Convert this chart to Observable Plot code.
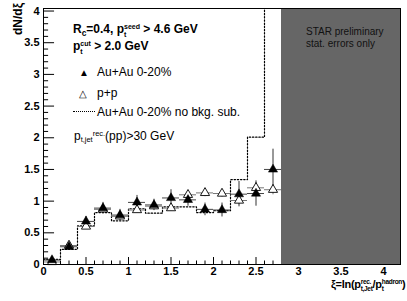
<!DOCTYPE html>
<html>
<head>
<meta charset="utf-8">
<script src="https://cdn.jsdelivr.net/npm/d3@7"></script>
<script src="https://cdn.jsdelivr.net/npm/@observablehq/plot@0.6"></script>
<style>
  body { margin: 0; background: white; }
  #wrap { position: relative; width: 407px; height: 301px; font-family: "Liberation Sans", Arial, sans-serif; color: #000; }
  #wrap svg { position: absolute; left: 0; top: 0; }
  .lab { position: absolute; white-space: nowrap; line-height: 1; }
  .b { font-weight: bold; }
  .ss { display: inline-flex; flex-direction: column; font-size: 7px; line-height: 8px; vertical-align: 4px; }
  .sup { font-size: 0.62em; vertical-align: 0.55em; }
  .sub { font-size: 0.62em; vertical-align: -0.3em; }
</style>
</head>
<body>
<div id="wrap"></div>
<script>
// ---- data ----
const xi        = [0.1, 0.3, 0.5, 0.7, 0.9, 1.1, 1.3, 1.5, 1.7, 1.9, 2.1, 2.3, 2.5, 2.7];
const auau      = [0.07, 0.28, 0.68, 0.89, 0.78, 0.98, 0.94, 1.05, 1.02, 0.87, 0.86, 1.11, 1.12, 1.50];
const auauErr   = [0.04, 0.05, 0.08, 0.09, 0.09, 0.11, 0.09, 0.13, 0.10, 0.10, 0.11, 0.20, 0.20, 0.32];
const pp        = [0.04, 0.30, 0.60, 0.87, 0.76, 0.86, 0.92, 0.89, 1.10, 1.13, 1.12, 1.01, 1.21, 1.18];
const ppErr     = [0.02, 0.03, 0.04, 0.05, 0.05, 0.05, 0.05, 0.05, 0.06, 0.06, 0.06, 0.07, 0.08, 0.08];
const noBkg     = [0.08, 0.24, 0.61, 0.82, 0.69, 0.88, 0.81, 0.91, 0.91, 0.82, 0.85, 1.34, 2.01, 4.30];
const binHalf   = 0.1;
const xTicks    = [0, 0.5, 1, 1.5, 2, 2.5, 3, 3.5, 4];
const yTicks    = [0, 0.5, 1, 1.5, 2, 2.5, 3, 3.5, 4];
const excluded  = [{x1: 2.8, x2: 4.2}];
const xDomain   = [0, 4.2];
const yDomain   = [0, 4.04];

// ---- derived tables ----
const auauRows = xi.map((x, i) => ({x, y: auau[i], e: auauErr[i]}));
const ppRows   = xi.map((x, i) => ({x, y: pp[i], e: ppErr[i]}));
const histRows = xi.map((x, i) => ({x: x - binHalf, y: noBkg[i]}));
histRows.push({x: xi[xi.length - 1] + binHalf, y: noBkg[noBkg.length - 1]});
const xMinor = d3.range(0, 42).map(i => i / 10).filter(v => Math.abs(v * 2 - Math.round(v * 2)) > 1e-6);
const yMinor = d3.range(0, 41).map(i => i / 10).filter(v => Math.abs(v * 2 - Math.round(v * 2)) > 1e-6);

const plot = Plot.plot({
  width: 407,
  height: 301,
  marginLeft: 43,
  marginRight: 7,
  marginTop: 8,
  marginBottom: 37,
  x: {domain: xDomain},
  y: {domain: yDomain},
  style: {fontFamily: "Liberation Sans, Arial, sans-serif", fontSize: "11px", fontWeight: "bold", background: "white"},
  marks: [
    Plot.axisX({ticks: xTicks, tickSize: 0, tickPadding: 3, label: null, tickFormat: d => String(d)}),
    Plot.axisY({ticks: yTicks, tickSize: 0, tickPadding: 4, label: null, tickFormat: d => String(d)}),
    // inward ticks
    Plot.ruleX(xTicks, {x: d => d, y1: 0, y2: 0.11, stroke: "black", strokeWidth: 1}),
    Plot.ruleX(xMinor, {x: d => d, y1: 0, y2: 0.055, stroke: "black", strokeWidth: 1}),
    Plot.ruleY(yTicks, {y: d => d, x1: 0, x2: 0.13, stroke: "black", strokeWidth: 1}),
    Plot.ruleY(yMinor, {y: d => d, x1: 0, x2: 0.06, stroke: "black", strokeWidth: 1}),
    // histogram (no bkg sub)
    Plot.line(histRows, {x: "x", y: "y", curve: "step-after", stroke: "black", strokeWidth: 1.2, strokeDasharray: "1.4,1.8", clip: true}),
    // p+p error bars
    Plot.ruleY(ppRows, {y: "y", x1: d => d.x - binHalf, x2: d => d.x + binHalf, stroke: "#777", strokeWidth: 1}),
    Plot.ruleX(ppRows, {x: "x", y1: d => d.y - d.e, y2: d => d.y + d.e, stroke: "#777", strokeWidth: 1}),
    // Au+Au error bars
    Plot.ruleY(auauRows, {y: "y", x1: d => d.x - binHalf, x2: d => d.x + binHalf, stroke: "#444", strokeWidth: 1}),
    Plot.ruleX(auauRows, {x: "x", y1: d => d.y - d.e, y2: d => d.y + d.e, stroke: "#333", strokeWidth: 1}),
    // markers
    Plot.dot(ppRows, {x: "x", y: "y", symbol: "triangle", r: 3.4, fill: "white", stroke: "black", strokeWidth: 0.9}),
    Plot.dot(auauRows, {x: "x", y: "y", symbol: "triangle", r: 3.4, fill: "black", stroke: "black", strokeWidth: 0.5}),
    // excluded region
    Plot.rect(excluded, {x1: "x1", x2: "x2", y1: yDomain[0], y2: yDomain[1], fill: "#666"}),
    Plot.frame({stroke: "black", strokeWidth: 1})
  ]
});

const wrap = document.getElementById("wrap");
wrap.appendChild(plot);

function lab(html, left, top, extra) {
  const d = document.createElement("div");
  d.className = "lab" + (extra ? " " + extra : "");
  d.style.left = left + "px";
  d.style.top = top + "px";
  d.innerHTML = html;
  wrap.appendChild(d);
  return d;
}

// y-axis title
const yt = lab('dN/dξ', 0, 0, "b");
yt.style.fontSize = "12px";
yt.style.transformOrigin = "0 0";
yt.style.transform = "translate(12px, 35px) rotate(-90deg)";

// x-axis title
const xt = lab('ξ=ln(p<span class="ss" style="font-size:6.5px;line-height:7px;vertical-align:4px"><span>rec.</span><span>t,Jet</span></span>/p<span class="ss" style="font-size:6.5px;line-height:7px;vertical-align:4px"><span>hadron</span><span>t</span></span>)', 331, 278, "b");
xt.style.fontSize = "11px";
xt.style.letterSpacing = "-0.3px";

// legend / annotations
const l1 = lab('R<span class="sub" style="font-size:0.7em">c</span>=0.4, p<span class="ss"><span>seed</span><span>t</span></span> &gt; 4.6 GeV', 73, 23, "b");
l1.style.fontSize = "12px";
const l2 = lab('p<span class="ss"><span>cut</span><span>t</span></span> &gt; 2.0 GeV', 73, 40, "b");
l2.style.fontSize = "12px";

const l3 = lab('<span style="font-size:10px;display:inline-block;width:18px">▲</span>Au+Au 0-20%', 79, 66);
l3.style.fontSize = "12px";
const l4 = lab('<span style="font-size:10px;display:inline-block;width:18px">△</span>p+p', 79, 87);
l4.style.fontSize = "12px";
const l5 = lab('<span style="display:inline-block;width:22px;border-top:1.2px dotted #000;vertical-align:4px;margin-right:2px"></span>Au+Au 0-20% no bkg. sub.', 73, 106);
l5.style.fontSize = "12px";
const l6 = lab('p<span class="sub">t,jet</span><span class="sup">rec.</span>(pp)&gt;30 GeV', 74, 130);
l6.style.fontSize = "12px";

const s1 = lab('STAR preliminary<br>stat. errors only', 306, 26);
s1.style.fontSize = "10px";
s1.style.lineHeight = "1.15";
s1.style.color = "#111";
</script>
</body>
</html>
